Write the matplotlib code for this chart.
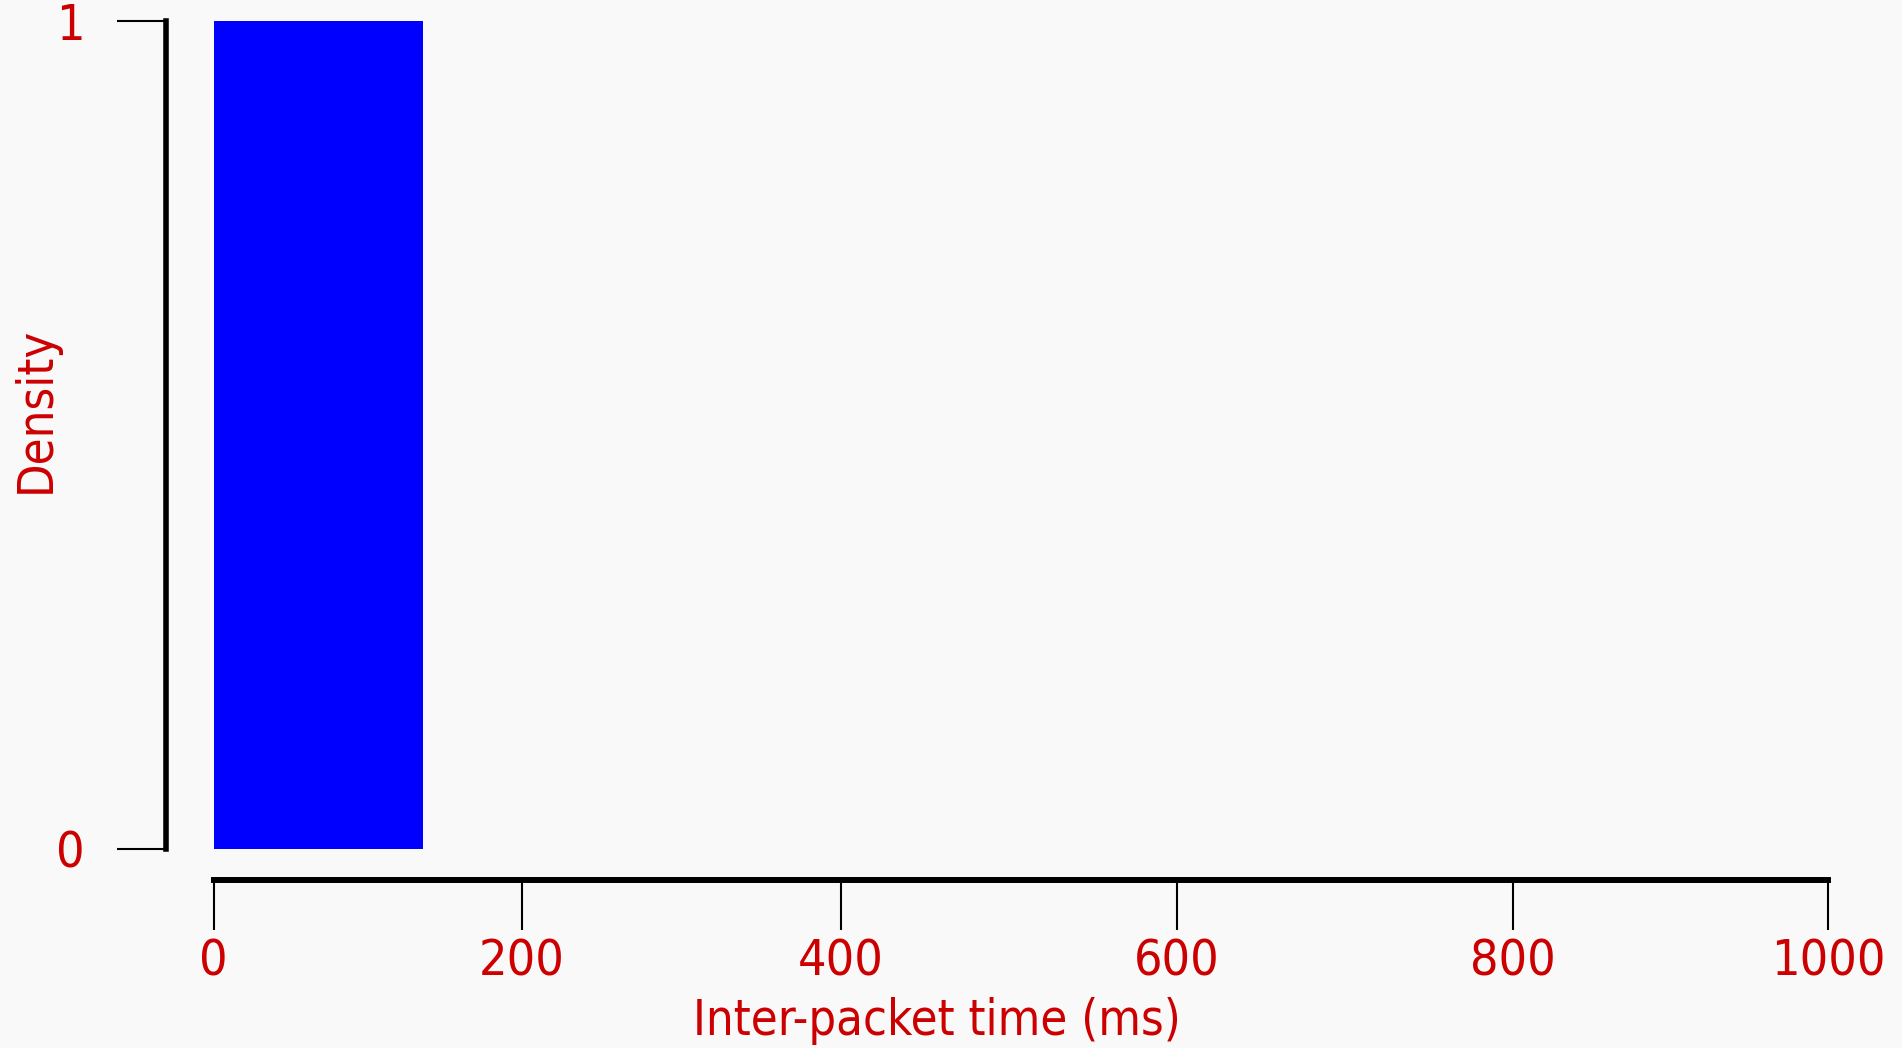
import numpy as np
import matplotlib.pyplot as plt
from matplotlib.scale import FuncScale

# --- data ---
bin_left = [0]
bin_width = [136]
density = [1]

x_ticks = [0, 200, 400, 600, 800, 1000]
# tick positions on the original slide are not evenly spaced (pixels)
x_tick_px = [213.5, 521.6, 840.6, 1176.6, 1512.6, 1828.0]
y_ticks = [0, 1]

red = '#cc0000'
bg = '#f9f9f9'
plt.rcParams['font.family'] = ['DejaVu Sans']
plt.rcParams['font.stretch'] = 'condensed'

fig = plt.figure(figsize=(19.02, 10.48), dpi=100, facecolor=bg)
ax = fig.add_axes([213.5 / 1902, 199 / 1048, (1828 - 213.5) / 1902, (849 - 20.6) / 1048])
ax.set_facecolor(bg)

# piecewise-linear scale so the ticks land where the slide has them
fwd = lambda v: np.interp(v, x_ticks, x_tick_px)
inv = lambda p: np.interp(p, x_tick_px, x_ticks)
ax.set_xscale(FuncScale(ax.xaxis, (fwd, inv)))

ax.bar(bin_left, density, width=bin_width, align='edge', color='#0000ff', linewidth=0)

ax.set_xlim(0, 1000)
ax.set_ylim(0, 1)
ax.set_xticks(x_ticks)
ax.set_yticks(y_ticks)
ax.minorticks_off()

for s in ['top', 'right']:
    ax.spines[s].set_visible(False)
ax.spines['left'].set_position(('outward', 34))
ax.spines['bottom'].set_position(('outward', 22))
ax.spines['left'].set_bounds(0, 1)
ax.spines['bottom'].set_bounds(0, 1000)
ax.spines['left'].set_linewidth(4)
ax.spines['bottom'].set_linewidth(4.3)

ax.tick_params(axis='x', length=36, width=1.5, pad=6, labelsize=36, labelcolor=red)
ax.tick_params(axis='y', length=35, width=1.5, pad=24, labelsize=36, labelcolor=red)

fig.text(937 / 1902, 27 / 1048, 'Inter-packet time (ms)', color=red, fontsize=35,
         ha='center', va='center')
fig.text(36 / 1902, 1 - 410 / 1048, 'Density', color=red, fontsize=35,
         rotation=90, ha='center', va='center')

fig.savefig('out.png', dpi=100, facecolor=bg)
